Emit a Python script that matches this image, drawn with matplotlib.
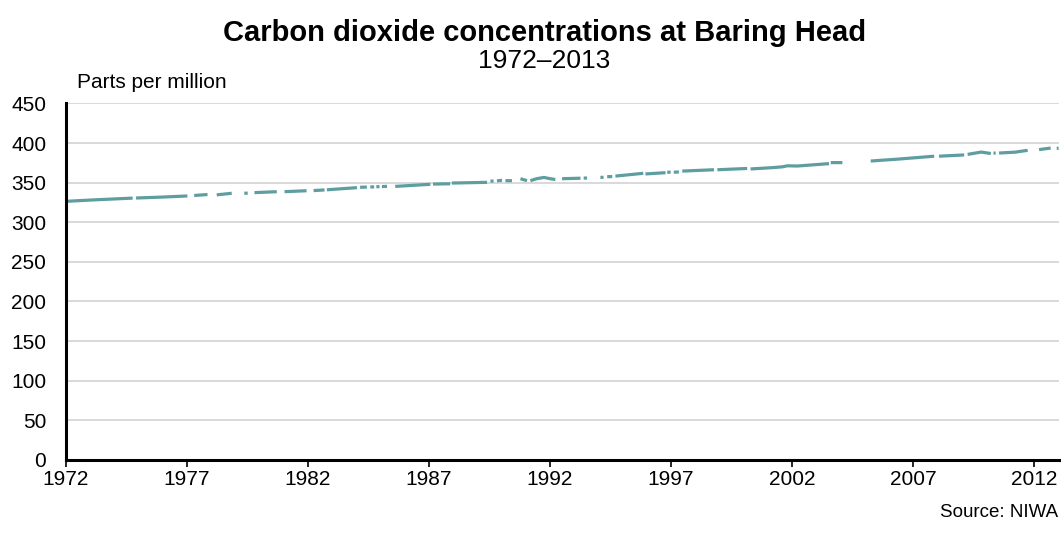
import numpy as np
import matplotlib
matplotlib.use("Agg")
import matplotlib.pyplot as plt

# Baring Head CO2 (decimal year, ppm); nan = gap in the record
years = [
    1972.0, 1973.2, 1974.77, np.nan,
    1974.91, 1976.0, 1977.03, np.nan,
    1977.31, 1977.86, np.nan,
    1978.24, 1978.86, np.nan,
    1979.38, 1979.52, np.nan,
    1979.80, 1980.72, np.nan,
    1981.04, 1981.95, np.nan,
    1982.24, 1982.69, np.nan,
    1982.79, 1984.03, np.nan,
    1984.16, 1984.44, np.nan,
    1984.58, 1984.74, np.nan,
    1984.83, 1984.96, np.nan,
    1985.06, 1985.27, np.nan,
    1985.61, 1987.06, np.nan,
    1987.17, 1987.88, np.nan,
    1987.95, 1989.40, np.nan,
    1989.54, 1989.67, np.nan,
    1989.81, 1990.02, np.nan,
    1990.16, 1990.43, np.nan,
    1990.78, 1991.05, np.nan,
    1991.19, 1991.45, 1991.75, 1992.0, 1992.22, np.nan,
    1992.50, 1993.26, np.nan,
    1993.39, 1993.53, np.nan,
    1994.08, 1994.21, np.nan,
    1994.36, 1994.57, np.nan,
    1994.70, 1995.85, np.nan,
    1995.94, 1996.77, np.nan,
    1996.84, 1996.98, np.nan,
    1997.11, 1997.32, np.nan,
    1997.46, 1998.77, np.nan,
    1998.91, 2000.14, np.nan,
    2000.28, 2001.2, 2001.6, 2001.8, 2002.2, 2003.52, np.nan,
    2003.59, 2004.07, np.nan,
    2005.24, 2006.4, 2007.86, np.nan,
    2008.06, 2009.10, np.nan,
    2009.24, 2009.8, 2010.20, np.nan,
    2010.31, 2010.40, np.nan,
    2010.54, 2011.2, 2011.72, np.nan,
    2012.19, 2012.67, np.nan,
    2012.92, 2013.0,
]
ppm = [
    326.4, 328.3, 330.5, np.nan,
    330.6, 331.8, 333.2, np.nan,
    333.8, 335.0, np.nan,
    334.6, 336.6, np.nan,
    336.6, 336.8, np.nan,
    337.4, 338.6, np.nan,
    338.6, 339.8, np.nan,
    340.0, 340.8, np.nan,
    341.0, 343.7, np.nan,
    344.2, 344.4, np.nan,
    344.5, 344.7, np.nan,
    344.8, 345.0, np.nan,
    345.1, 345.3, np.nan,
    345.3, 347.9, np.nan,
    348.2, 348.6, np.nan,
    349.5, 350.4, np.nan,
    352.0, 352.0, np.nan,
    352.3, 353.0, np.nan,
    352.5, 352.5, np.nan,
    355.0, 352.5, np.nan,
    352.5, 355.0, 356.6, 355.0, 354.0, np.nan,
    355.0, 355.6, np.nan,
    355.8, 355.8, np.nan,
    356.7, 356.7, np.nan,
    357.6, 357.6, np.nan,
    358.3, 361.8, np.nan,
    361.0, 362.6, np.nan,
    363.2, 363.2, np.nan,
    363.2, 363.5, np.nan,
    364.6, 366.3, np.nan,
    366.3, 367.9, np.nan,
    367.3, 369.0, 370.0, 371.3, 371.0, 374.0, np.nan,
    375.3, 375.3, np.nan,
    377.3, 379.8, 383.4, np.nan,
    383.4, 385.0, np.nan,
    385.7, 388.6, 386.8, np.nan,
    387.2, 387.4, np.nan,
    387.4, 388.5, 390.8, np.nan,
    391.7, 393.7, np.nan,
    393.3, 393.5,
]
xticks = list(range(1972, 2013, 5))
yticks = list(range(0, 451, 50))

plt.rcParams["font.family"] = ["Liberation Sans", "DejaVu Sans"]

fig = plt.figure(figsize=(10.61, 5.36), dpi=100)
ax = fig.add_axes([0.0618, 0.142, 0.936, 0.665])

ax.plot(years, ppm, color="#5f9ea0", linewidth=2.3, solid_capstyle="butt")

ax.set_xlim(1972, 2013)
ax.set_ylim(0, 450)
ax.set_xticks(xticks)
ax.set_yticks(yticks)
ax.tick_params(axis="x", length=5, width=1.2, labelsize=15, pad=2)
ax.tick_params(axis="y", length=0, labelsize=15, pad=14)
ax.grid(axis="y", color="#d9d9d9", linewidth=1.4)
ax.set_axisbelow(True)
for s in ["top", "right"]:
    ax.spines[s].set_visible(False)
ax.spines["left"].set_linewidth(2.2)
ax.spines["bottom"].set_linewidth(2.2)

fig.text(0.513, 0.938, "Carbon dioxide concentrations at Baring Head",
         ha="center", va="center", fontsize=21, fontweight="bold")
fig.text(0.513, 0.886, "1972\u20132013", ha="center", va="center", fontsize=19)
fig.text(0.0725, 0.847, "Parts per million", ha="left", va="center", fontsize=15)
fig.text(0.997, 0.043, "Source: NIWA", ha="right", va="center", fontsize=13.5)

fig.savefig("out.png", dpi=100)
